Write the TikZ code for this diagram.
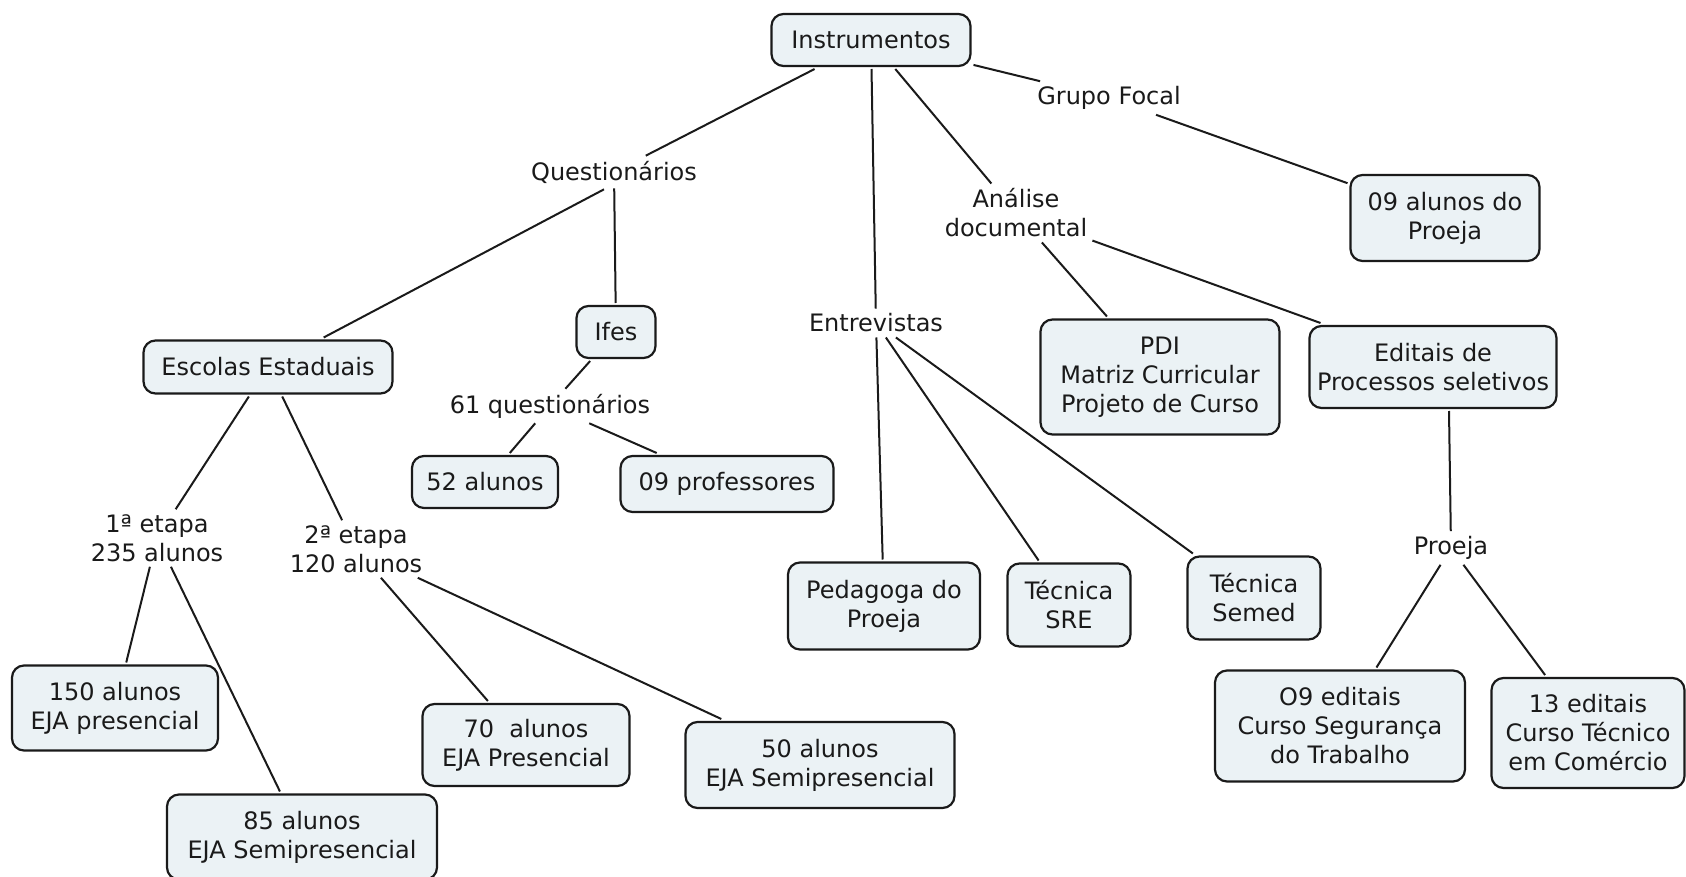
\documentclass[tikz,border=0pt]{standalone}
\usepackage{fontspec}
\setmainfont{DejaVu Sans}
\definecolor{boxfill}{HTML}{EBF2F5}
\definecolor{ink}{HTML}{1A1A1A}
\begin{document}
\begin{tikzpicture}[x=1pt,y=-1pt,
  every node/.style={font=\fontsize{24}{29}\selectfont, text=ink, align=center},
  box/.style={draw=ink, line width=2.2pt, fill=boxfill, rounded corners=12pt, inner sep=0pt, outer sep=3pt},
  lbl/.style={inner sep=5pt},
  link/.style={draw=ink, line width=2pt}]
\useasboundingbox (0,0) rectangle (1686,877);
\clip (0,0) rectangle (1686,877);
% boxes
\node[box, minimum width=199pt, minimum height=52pt] (instr) at (871,40) {Instrumentos};
\node[box, minimum width=189pt, minimum height=86pt] (gfal) at (1445,218) {09 alunos do\\Proeja};
\node[box, minimum width=79pt, minimum height=52pt] (ifes) at (616,332) {Ifes};
\node[box, minimum width=249pt, minimum height=53pt] (esc) at (268,367) {Escolas Estaduais};
\node[box, minimum width=146pt, minimum height=52pt] (a52) at (485,482) {52 alunos};
\node[box, minimum width=213pt, minimum height=56pt] (p09) at (727,484) {09 professores};
\node[box, minimum width=239pt, minimum height=115pt] (pdi) at (1160,377) {PDI\\Matriz Curricular\\Projeto de Curso};
\node[box, minimum width=247pt, minimum height=82pt] (edit) at (1433,367) {Editais de\\Processos seletivos};
\node[box, minimum width=192pt, minimum height=87pt] (ped) at (884,606) {Pedagoga do\\Proeja};
\node[box, minimum width=123pt, minimum height=83pt] (sre) at (1069,605) {Técnica\\SRE};
\node[box, minimum width=133pt, minimum height=83pt] (semed) at (1254,598) {Técnica\\Semed};
\node[box, minimum width=206pt, minimum height=85pt] (a150) at (115,708) {150 alunos\\EJA presencial};
\node[box, minimum width=270pt, minimum height=85pt] (a85) at (302,837) {85 alunos\\EJA Semipresencial};
\node[box, minimum width=207pt, minimum height=82pt] (a70) at (526,745) {70~ alunos\\EJA Presencial};
\node[box, minimum width=269pt, minimum height=86pt] (a50) at (820,765) {50 alunos\\EJA Semipresencial};
\node[box, minimum width=250pt, minimum height=111pt] (e09) at (1340,726) {O9 editais\\Curso Segurança\\do Trabalho};
\node[box, minimum width=193pt, minimum height=110pt] (e13) at (1588,733) {13 editais\\Curso Técnico\\em Comércio};
% labels
\node[lbl] (gf) at (1109,98) {Grupo Focal};
\node[lbl] (quest) at (614,172) {Questionários};
\node[lbl] (anal) at (1016,213) {Análise\\documental};
\node[lbl] (entr) at (876,323) {Entrevistas};
\node[lbl] (q61) at (550,406) {61 questionários};
\node[lbl] (et1) at (157,538) {1ª etapa\\235 alunos};
\node[lbl] (et2) at (356,549) {2ª etapa\\120 alunos};
\node[lbl] (proeja) at (1451,548) {Proeja};
% links
\draw[link] (instr) -- (quest);
\draw[link] (instr) -- (entr);
\draw[link] (instr) -- (anal);
\draw[link] (instr) -- (gf);
\draw[link] (gf) -- (gfal);
\draw[link] ([xshift=-10pt,yshift=-1pt]quest.south) -- (esc);
\draw[link] (quest) -- (ifes);
\draw[link] (esc) -- (et1);
\draw[link] (esc) -- (et2);
\draw[link] (et1) -- (a150);
\draw[link] (et1) -- (a85);
\draw[link] (et2) -- (a70);
\draw[link] (et2) -- (a50);
\draw[link] (ifes) -- (q61);
\draw[link] (q61) -- (a52);
\draw[link] (q61) -- (p09);
\draw[link] (entr) -- (ped);
\draw[link] (entr) -- (sre);
\draw[link] (entr) -- (semed);
\draw[link] (anal) -- (pdi);
\draw[link] (anal) -- ([xshift=14pt]edit.north west);
\draw[link] ([xshift=16pt]edit.south) -- (proeja);
\draw[link] (proeja) -- (e09);
\draw[link] (proeja) -- (e13);
\end{tikzpicture}
\end{document}
